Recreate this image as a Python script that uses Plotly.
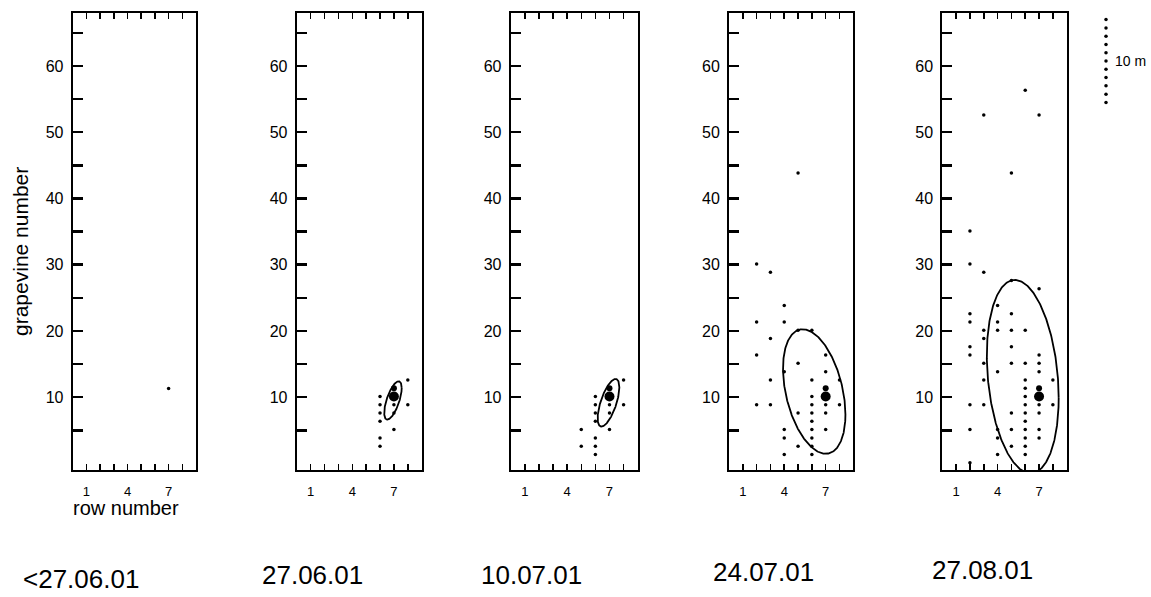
import numpy as np
import plotly.graph_objects as go

W, H = 1151, 597

dates = ["<27.06.01", "27.06.01", "10.07.01", "24.07.01", "27.08.01"]

# infested vines per sampling date (row number, grapevine number)
p1_x = [7]
p1_y = [11.3]

p2_x = [6, 6, 6, 6, 6, 6, 7, 7, 7, 8, 8]
p2_y = [10.1, 8.85, 7.6, 6.35, 3.85, 2.6, 8.85, 7.6, 5.1, 12.6, 8.85]

p3_x = [5, 5, 6, 6, 6, 6, 6, 6, 6, 7, 7, 7, 8, 8]
p3_y = [5.1, 2.6, 10.1, 8.85, 7.6, 6.35, 3.85, 2.6, 1.35, 8.85, 7.6, 5.1, 12.6, 8.85]

p4_x = [2, 2, 2, 2,
        3, 3, 3, 3,
        4, 4, 4, 4, 4, 4,
        5, 5, 5, 5, 5,
        6, 6, 6, 6, 6, 6, 6, 6, 6, 6,
        7, 7, 7, 7, 7,
        8, 8]
p4_y = [30.1, 21.35, 16.35, 8.85,
        28.85, 18.85, 12.6, 8.85,
        23.85, 21.35, 13.85, 5.1, 3.85, 1.35,
        43.85, 20.1, 15.1, 7.6, 2.6,
        20.1, 12.6, 10.1, 8.85, 7.6, 6.35, 5.1, 3.85, 2.6, 1.35,
        16.35, 13.85, 8.85, 7.6, 5.1,
        12.6, 8.85]

p5_x = [2, 2, 2, 2, 2, 2, 2, 2, 2,
        3, 3, 3, 3, 3, 3, 3,
        4, 4, 4, 4, 4, 4, 4,
        5, 5, 5, 5, 5, 5, 5, 5, 5,
        6, 6, 6, 6, 6, 6, 6, 6, 6, 6, 6, 6, 6,
        7, 7, 7, 7, 7, 7, 7, 7, 7,
        8, 8]
p5_y = [35.1, 30.1, 22.6, 21.35, 17.6, 16.35, 8.85, 5.1, 0.1,
        52.6, 28.85, 20.1, 18.85, 15.1, 12.6, 8.85,
        23.85, 21.35, 20.1, 13.85, 5.1, 3.85, 1.35,
        43.85, 27.6, 22.6, 20.1, 17.6, 15.1, 7.6, 5.1, 2.6,
        56.35, 20.1, 15.1, 12.6, 11.35, 10.1, 8.85, 7.6, 6.35, 5.1, 3.85, 2.6, 1.35,
        52.6, 26.35, 16.35, 15.1, 13.85, 8.85, 7.6, 5.1, 3.85,
        12.6, 8.85]

panel_x = [p1_x, p2_x, p3_x, p4_x, p5_x]
panel_y = [p1_y, p2_y, p3_y, p4_y, p5_y]

# first infested vine and release point (shown from the second date on)
first_x, first_y = [7], [11.35]
release_x, release_y = [7], [10.1]

# dispersal ellipse: centre, half extents and correlation (None = no ellipse)
ell_cx = [None, 6.93, 6.93, 6.17, 5.82]
ell_cy = [None, 9.5, 9.15, 10.85, 13.1]
ell_sx = [None, 0.63, 0.77, 2.26, 2.6]
ell_sy = [None, 2.9, 3.6, 9.4, 14.6]
ell_rho = [None, 0.65, 0.65, -0.37, -0.22]

x_tickvals = [1, 2, 3, 4, 5, 6, 7, 8]
x_ticktext = ["1", "", "", "4", "", "", "7", ""]
y_tickvals = [5, 10, 15, 20, 25, 30, 35, 40, 45, 50, 55, 60, 65]
y_ticktext = ["", "10", "", "20", "", "30", "", "40", "", "50", "", "60", ""]

# scale bar: 10 m
scale_y = [54.5, 55.75, 57.0, 58.25, 59.5, 60.75, 62.0, 63.25, 64.5, 65.75, 67.0]
scale_label = "10 m"

# panel geometry in page pixels
panel_left = [72.7, 296.7, 510.7, 729.0, 942.3]
panel_right = [196.0, 421.7, 637.7, 853.3, 1066.7]
plot_top, plot_bottom = 13, 470
date_cx = [81, 312, 531, 763, 983]
date_cy = [579, 575, 575, 572, 570]

FONT = "Arial, 'Liberation Sans', Helvetica, sans-serif"


def px(v):
    return v / W


def py(v):
    return 1 - v / H


fig = go.Figure()
layout = dict(
    width=W, height=H,
    margin=dict(l=0, r=0, t=0, b=0),
    paper_bgcolor="white", plot_bgcolor="white",
    showlegend=False,
    font=dict(family=FONT, color="black"),
)

ydom = [py(plot_bottom), py(plot_top)]
t = np.linspace(0, 2 * np.pi, 361)

for i in range(5):
    xa = "x" if i == 0 else f"x{i+1}"
    ya = "y" if i == 0 else f"y{i+1}"
    xkey = "xaxis" if i == 0 else f"xaxis{i+1}"
    ykey = "yaxis" if i == 0 else f"yaxis{i+1}"
    layout[xkey] = dict(
        domain=[px(panel_left[i]), px(panel_right[i])], anchor=ya,
        range=[0, 9], showgrid=False, zeroline=False,
        showline=True, linecolor="black", linewidth=2, mirror="ticks",
        ticks="inside", ticklen=6, tickwidth=1.5, tickcolor="black",
        tickvals=x_tickvals, ticktext=x_ticktext,
        tickfont=dict(size=13, family=FONT, color="black"),
        ticklabelstandoff=8,
        fixedrange=True,
    )
    layout[ykey] = dict(
        domain=ydom, anchor=xa,
        range=[-1, 68], showgrid=False, zeroline=False,
        showline=True, linecolor="black", linewidth=2, mirror=True,
        ticks="inside", ticklen=10, tickwidth=2.5, tickcolor="black",
        tickvals=y_tickvals, ticktext=y_ticktext,
        tickfont=dict(size=16, family=FONT, color="black"),
        ticklabelstandoff=4,
        fixedrange=True,
    )
    fig.add_trace(go.Scatter(
        x=panel_x[i], y=panel_y[i], mode="markers", xaxis=xa, yaxis=ya,
        marker=dict(size=3.5, color="black"), hoverinfo="skip"))
    if i > 0:
        fig.add_trace(go.Scatter(
            x=first_x, y=first_y, mode="markers", xaxis=xa, yaxis=ya,
            marker=dict(size=6, color="black"), hoverinfo="skip"))
        fig.add_trace(go.Scatter(
            x=release_x, y=release_y, mode="markers", xaxis=xa, yaxis=ya,
            marker=dict(size=10, color="black"), hoverinfo="skip"))
    if ell_cx[i] is not None:
        r = ell_rho[i]
        ex = ell_cx[i] + ell_sx[i] * np.cos(t)
        ey = ell_cy[i] + ell_sy[i] * (r * np.cos(t) + np.sqrt(1 - r * r) * np.sin(t))
        fig.add_trace(go.Scatter(
            x=ex, y=ey, mode="lines", xaxis=xa, yaxis=ya,
            line=dict(color="black", width=1.8), hoverinfo="skip"))

# scale bar axis
layout["xaxis6"] = dict(domain=[px(1100), px(1112)], anchor="y6", range=[0, 1],
                        visible=False, fixedrange=True)
layout["yaxis6"] = dict(domain=ydom, anchor="x6", range=[-1, 68],
                        visible=False, fixedrange=True)
fig.add_trace(go.Scatter(
    x=[0.5] * len(scale_y), y=scale_y, mode="markers", xaxis="x6", yaxis="y6",
    marker=dict(size=3.5, color="black"), hoverinfo="skip"))

annotations = []
annotations.append(dict(
    x=1, y=60.75, xref="x6", yref="y6", text=scale_label, showarrow=False,
    xanchor="left", yanchor="middle", xshift=1,
    font=dict(size=14, family=FONT, color="black")))
for i in range(5):
    annotations.append(dict(
        x=px(date_cx[i]), y=py(date_cy[i]), xref="paper", yref="paper",
        text=dates[i], showarrow=False, xanchor="center", yanchor="middle",
        font=dict(size=26, family=FONT, color="black")))
annotations.append(dict(
    x=px(126), y=py(508), xref="paper", yref="paper", text="row number",
    showarrow=False, xanchor="center", yanchor="middle",
    font=dict(size=20, family=FONT, color="black")))
annotations.append(dict(
    x=px(20), y=py(252), xref="paper", yref="paper", text="grapevine number",
    showarrow=False, xanchor="center", yanchor="middle", textangle=-90,
    font=dict(size=21, family=FONT, color="black")))
layout["annotations"] = annotations

fig.update_layout(**layout)
fig.write_html(
    "out.html",
    config={"displayModeBar": False, "staticPlot": True},
    post_script="document.body.style.margin='0';document.body.style.overflow='hidden';",
)
